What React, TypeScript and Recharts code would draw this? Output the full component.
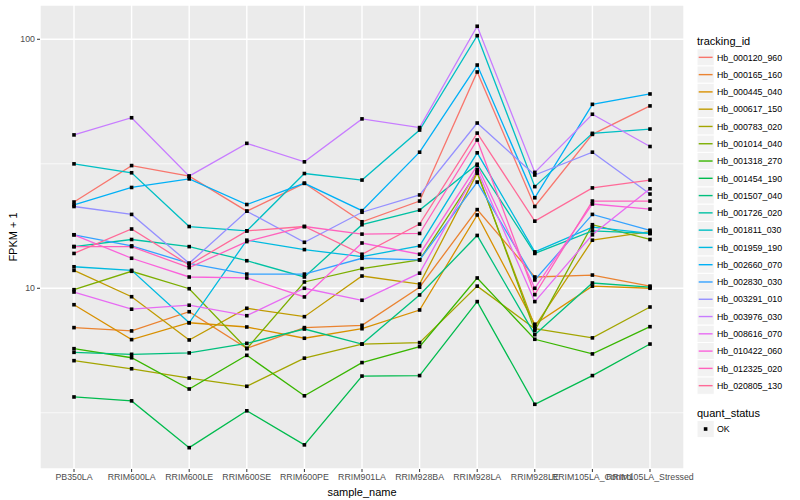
import React from "react";
import { LineChart, Line, XAxis, YAxis, CartesianGrid } from "recharts";

const SAMPLES = [
  "PB350LA",
  "RRIM600LA",
  "RRIM600LE",
  "RRIM600SE",
  "RRIM600PE",
  "RRIM901LA",
  "RRIM928BA",
  "RRIM928LA",
  "RRIM928LE",
  "RRIM105LA_Control",
  "RRIM105LA_Stressed",
];

const TRACKING_IDS = [
  "Hb_000120_960",
  "Hb_000165_160",
  "Hb_000445_040",
  "Hb_000617_150",
  "Hb_000783_020",
  "Hb_001014_040",
  "Hb_001318_270",
  "Hb_001454_190",
  "Hb_001507_040",
  "Hb_001726_020",
  "Hb_001811_030",
  "Hb_001959_190",
  "Hb_002660_070",
  "Hb_002830_030",
  "Hb_003291_010",
  "Hb_003976_030",
  "Hb_008616_070",
  "Hb_010422_060",
  "Hb_012325_020",
  "Hb_020805_130",
];

// FPKM + 1, one value per sample (same order as SAMPLES)
const hb000120_960 = [22.2, 31.1, 28.2, 20.4, 26.4, 18.5, 22.4, 73.9, 21.3, 41.5, 54.0];
const hb000165_160 = [6.95, 6.74, 8.05, 5.74, 6.95, 7.1, 10.1, 20.7, 11.1, 11.3, 10.2];
const hb000445_040 = [8.59, 6.22, 7.27, 6.99, 6.3, 6.88, 8.18, 19.7, 7.17, 10.2, 10.0];
const hb000617_150 = [11.8, 9.25, 6.2, 8.31, 7.69, 11.2, 10.4, 29.0, 7.01, 15.6, 16.9];
const hb000783_020 = [5.12, 4.75, 4.36, 4.04, 5.24, 5.97, 6.05, 10.2, 6.88, 6.32, 8.41];
const hb001014_040 = [9.87, 11.7, 9.96, 5.72, 10.6, 12.0, 13.0, 29.4, 6.76, 18.0, 15.7];
const hb001318_270 = [5.72, 5.26, 3.94, 5.38, 3.7, 5.03, 5.83, 11.0, 6.24, 5.45, 7.01];
const hb001454_190 = [3.66, 3.53, 2.29, 3.22, 2.35, 4.44, 4.46, 8.84, 3.42, 4.46, 5.97];
const hb001507_040 = [5.53, 5.43, 5.5, 6.01, 6.86, 5.97, 9.4, 16.3, 6.51, 10.5, 10.1];
const hb001726_020 = [14.7, 15.7, 14.7, 12.9, 11.1, 18.0, 20.6, 31.5, 13.8, 17.0, 16.6];
const hb001811_030 = [31.6, 29.1, 17.7, 17.0, 28.9, 27.2, 43.2, 103.4, 25.6, 41.9, 43.6];
const hb001959_190 = [12.2, 11.8, 7.27, 15.6, 14.3, 13.4, 14.8, 35.0, 14.0, 17.6, 16.6];
const hb002660_070 = [21.6, 25.4, 27.5, 21.7, 26.4, 20.5, 35.2, 78.8, 23.1, 54.8, 60.3];
const hb002830_030 = [16.4, 14.8, 12.6, 11.4, 11.4, 13.2, 13.0, 26.7, 10.8, 19.8, 17.1];
const hb003291_010 = [21.3, 19.8, 12.6, 20.4, 15.3, 20.2, 23.7, 46.1, 28.5, 35.2, 23.9];
const hb003976_030 = [41.3, 48.4, 28.2, 38.2, 32.2, 47.9, 44.2, 112.8, 29.2, 50.0, 37.1];
const hb008616_070 = [9.66, 8.24, 8.55, 7.76, 10.0, 8.95, 11.5, 29.9, 8.84, 16.4, 25.1];
const hb010422_060 = [16.4, 13.2, 11.1, 11.0, 9.23, 15.2, 13.7, 31.1, 10.0, 21.8, 20.8];
const hb012325_020 = [14.7, 14.7, 12.1, 15.4, 17.7, 16.5, 16.6, 39.4, 9.43, 22.4, 22.4];
const hb020805_130 = [13.8, 17.3, 12.4, 17.0, 17.7, 13.7, 18.1, 42.0, 18.6, 25.3, 27.2];

const SERIES_VALUES = [
  hb000120_960,
  hb000165_160,
  hb000445_040,
  hb000617_150,
  hb000783_020,
  hb001014_040,
  hb001318_270,
  hb001454_190,
  hb001507_040,
  hb001726_020,
  hb001811_030,
  hb001959_190,
  hb002660_070,
  hb002830_030,
  hb003291_010,
  hb003976_030,
  hb008616_070,
  hb010422_060,
  hb012325_020,
  hb020805_130,
];

const Y_TICKS = [10, 100];
const Y_MINOR = [3.162, 31.62];

// ggplot hue palette, 20 levels
const COLORS = [
  "#F8766D", "#EA8331", "#D89000", "#C09B00", "#A3A500",
  "#7CAE00", "#39B600", "#00BB4E", "#00BF7D", "#00C1A3",
  "#00BFC4", "#00BAE0", "#00B0F6", "#35A2FF", "#9590FF",
  "#C77CFF", "#E76BF3", "#FA62DB", "#FF62BC", "#FF6A98",
];

const FONT = '"Liberation Sans", Arial, Helvetica, sans-serif';

const data = SAMPLES.map((sample, i) => {
  const row: Record<string, string | number> = { sample };
  TRACKING_IDS.forEach((id, s) => {
    row[id] = SERIES_VALUES[s][i];
  });
  return row;
});

const squareDot = (props: any) => {
  const { cx, cy, index, dataKey } = props;
  if (cx == null || cy == null) return <g key={`${dataKey}-${index}`} />;
  return (
    <rect
      key={`${dataKey}-${index}`}
      x={cx - 1.8}
      y={cy - 1.8}
      width={3.6}
      height={3.6}
      fill="#000"
    />
  );
};

function Legend() {
  const keyTop = 48.7;
  const step = 17.28;
  return (
    <svg
      width={800}
      height={500}
      style={{ position: "absolute", left: 0, top: 0, pointerEvents: "none" }}
      fontFamily={FONT}
    >
      <text x={697} y={44.5} fontSize={11} fill="#000">
        tracking_id
      </text>
      {TRACKING_IDS.map((id, i) => {
        const y = keyTop + i * step;
        return (
          <g key={id}>
            <rect x={697} y={y} width={step} height={step} fill="#F2F2F2" stroke="#fff" strokeWidth={1} />
            <line x1={698.7} x2={712.6} y1={y + step / 2} y2={y + step / 2} stroke={COLORS[i]} strokeWidth={1.4} />
            <text x={717} y={y + step / 2 + 3.2} fontSize={8.8} fill="#000">
              {id}
            </text>
          </g>
        );
      })}
      <text x={697} y={416.5} fontSize={11} fill="#000">
        quant_status
      </text>
      <rect x={697} y={420.4} width={step} height={step} fill="#F2F2F2" stroke="#fff" strokeWidth={1} />
      <rect x={703.8} y={427.2} width={3.6} height={3.6} fill="#000" />
      <text x={717} y={432.2} fontSize={8.8} fill="#000">
        OK
      </text>
      <text x={362} y={495.5} fontSize={11} fill="#000" textAnchor="middle">
        sample_name
      </text>
      <text
        x={0}
        y={0}
        fontSize={11}
        fill="#000"
        textAnchor="middle"
        transform="translate(16.5 237) rotate(-90)"
      >
        FPKM + 1
      </text>
    </svg>
  );
}

export default function App() {
  return (
    <div style={{ position: "relative", width: 800, height: 500, background: "#fff" }}>
      <style>{`body{margin:0}`}</style>
      <LineChart
        width={800}
        height={500}
        data={data}
        margin={{ top: 5, right: 116, bottom: 0, left: 0 }}
      >
        <CartesianGrid
          fill="#EBEBEB"
          stroke="#FFFFFF"
          strokeWidth={0.7}
          vertical={false}
          horizontalValues={Y_MINOR}
        />
        <CartesianGrid stroke="#FFFFFF" strokeWidth={1.4} />
        <XAxis
          dataKey="sample"
          type="category"
          padding={{ left: 34, right: 34 }}
          height={31}
          interval={0}
          axisLine={false}
          tickSize={3}
          tickMargin={2}
          tickLine={{ stroke: "#333333" }}
          tick={{ fill: "#4D4D4D", fontSize: 8.8, fontFamily: FONT }}
        />
        <YAxis
          scale="log"
          domain={[1.88, 137.3]}
          allowDataOverflow
          ticks={Y_TICKS}
          width={40}
          axisLine={false}
          tickSize={3}
          tickMargin={2}
          tickLine={{ stroke: "#333333" }}
          tick={{ fill: "#4D4D4D", fontSize: 8.8, fontFamily: FONT }}
        />
        {TRACKING_IDS.map((id, i) => (
          <Line
            key={id}
            dataKey={id}
            stroke={COLORS[i]}
            strokeWidth={1.3}
            type="linear"
            dot={false}
            activeDot={false}
            isAnimationActive={false}
          />
        ))}
        {TRACKING_IDS.map((id) => (
          <Line
            key={`pt-${id}`}
            dataKey={id}
            stroke="none"
            type="linear"
            dot={squareDot}
            activeDot={false}
            legendType="none"
            isAnimationActive={false}
          />
        ))}
      </LineChart>
      <Legend />
    </div>
  );
}
